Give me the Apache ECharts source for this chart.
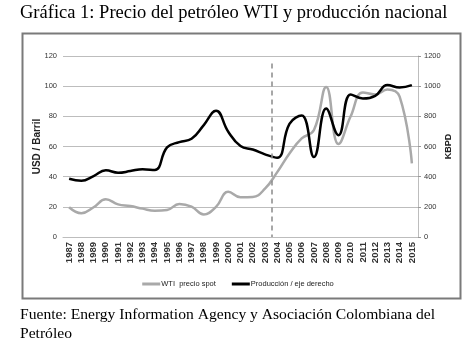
<!DOCTYPE html>
<html>
<head>
    <meta charset="utf-8">
    <title>WTI y producción</title>
    <script src="https://cdn.jsdelivr.net/npm/echarts@6/dist/echarts.min.js"></script>
    <style>
        html, body { margin: 0; padding: 0; background: #fff; }
    </style>
</head>
<body>
    <div id="main" style="width: 476px;height:351px;"></div>
    <script type="text/javascript">
        // años (etiquetas del eje x)
        var years = ['1987','1988','1989','1990','1991','1992','1993','1994','1995','1996',
                     '1997','1998','1999','2000','2001','2002','2003','2004','2005','2006',
                     '2007','2008','2009','2010','2011','2012','2013','2014','2015'];
        // WTI precio spot, USD / barril (eje izquierdo)
        var wti = [19.7, 15.7, 19.7, 25.0, 21.6, 20.5, 18.8, 17.4, 17.9, 21.9,
                   20.1, 15.0, 20.0, 30.0, 26.3, 26.5, 32.0, 43.0, 55.4, 65.4,
                   70.9, 99.5, 61.6, 80.0, 95.8, 94.5, 97.8, 93.0, 48.8];
        // Producción nacional, KBPD (eje derecho)
        var prod = [386, 373, 404, 442, 426, 437, 450, 444, 594, 629,
                    651, 742, 837, 698, 603, 580, 548, 525, 750, 805,
                    530, 852, 675, 945, 918, 936, 1007, 991, 1007];
        // línea discontinua: entre 2003 y 2004 (índice de categoría, con decimales)
        var cutIndex = 16.55;
        var cutTop = 115;

        var myChart = echarts.init(document.getElementById('main'));
        var axisFont = 'Liberation Sans';

        var option = {
            animation: false,
            backgroundColor: '#fff',
            title: [
                {
                    text: 'Gráfica 1: Precio del petróleo WTI y producción nacional',
                    left: 20, top: 4, padding: 0,
                    textStyle: {fontFamily: 'Liberation Serif', fontSize: 18.5, fontWeight: 'normal', color: '#000'}
                },
                {
                    text: 'Fuente: Energy Information Agency y Asociación Colombiana del\nPetróleo',
                    left: 20, top: 306, padding: 0,
                    textStyle: {fontFamily: 'Liberation Serif', fontSize: 15.6, fontWeight: 'normal', color: '#000', lineHeight: 18.5}
                }
            ],
            graphic: [{
                type: 'rect',
                shape: {x: 22.5, y: 33.5, width: 438, height: 265},
                style: {fill: 'none', stroke: '#7a7a7a', lineWidth: 2},
                silent: true
            }],
            legend: {
                left: 'center', top: 275,
                itemWidth: 18, itemHeight: 3, itemGap: 16,
                icon: 'rect',
                textStyle: {fontFamily: axisFont, fontSize: 7.5, color: '#222', padding: [0, 0, 0, -4]},
                data: ['WTI  precio spot', 'Producción / eje derecho']
            },
            grid: {left: 63, right: 58, top: 56, bottom: 114, containLabel: false, outerBoundsMode: 'none'},
            xAxis: [
                {
                    type: 'category',
                    data: years,
                    boundaryGap: true,
                    axisLine: {lineStyle: {color: '#bdbdbd', width: 1}},
                    axisTick: {show: false},
                    axisLabel: {rotate: 90, margin: 5, interval: 0, fontFamily: axisFont, fontSize: 9.5, fontWeight: 'bold', color: '#333'}
                },
                {
                    // eje auxiliar oculto para situar la línea discontinua
                    type: 'value', min: -0.5, max: years.length - 0.5, show: false
                }
            ],
            yAxis: [
                {
                    type: 'value', min: 0, max: 120, interval: 20,
                    name: 'USD / Barril', nameLocation: 'middle', nameGap: 21, nameRotate: 90,
                    nameMoveOverlap: false,
                    nameTextStyle: {fontFamily: axisFont, fontSize: 10, fontWeight: 'bold', color: '#222'},
                    axisLine: {show: false}, axisTick: {show: false},
                    axisLabel: {margin: 6, fontFamily: axisFont, fontSize: 7.5, color: '#333',
                                formatter: function (v) { return String(v); }},
                    splitLine: {lineStyle: {color: '#bdbdbd', width: 1}}
                },
                {
                    type: 'value', min: 0, max: 1200, interval: 200,
                    name: 'KBPD', nameLocation: 'middle', nameGap: 26, nameRotate: 90,
                    nameMoveOverlap: false,
                    nameTextStyle: {fontFamily: axisFont, fontSize: 9, fontWeight: 'bold', color: '#222'},
                    axisLine: {show: true, lineStyle: {color: '#bdbdbd', width: 1}},
                    axisTick: {show: true, length: 3, lineStyle: {color: '#999'}},
                    axisLabel: {margin: 6, fontFamily: axisFont, fontSize: 7.5, color: '#333',
                                formatter: function (v) { return String(v); }},
                    splitLine: {show: false}
                }
            ],
            series: [
                {
                    name: 'WTI  precio spot',
                    type: 'line',
                    yAxisIndex: 0,
                    data: wti,
                    smooth: 0.45,
                    symbol: 'none',
                    lineStyle: {color: '#a9a9a9', width: 2.5},
                    itemStyle: {color: '#a9a9a9'},
                    z: 2
                },
                {
                    name: 'Producción / eje derecho',
                    type: 'line',
                    yAxisIndex: 1,
                    data: prod,
                    smooth: 0.45,
                    symbol: 'none',
                    lineStyle: {color: '#000', width: 2.5},
                    itemStyle: {color: '#000'},
                    z: 3
                },
                {
                    name: 'corte',
                    type: 'line',
                    xAxisIndex: 1,
                    yAxisIndex: 0,
                    data: [],
                    symbol: 'none',
                    silent: true,
                    markLine: {
                        silent: true,
                        symbol: 'none',
                        label: {show: false},
                        lineStyle: {color: '#8a8a8a', type: [5, 4], width: 1.5},
                        data: [[{coord: [cutIndex, cutTop]}, {coord: [cutIndex, 0]}]]
                    }
                }
            ]
        };
        myChart.setOption(option);
    </script>
</body>
</html>
